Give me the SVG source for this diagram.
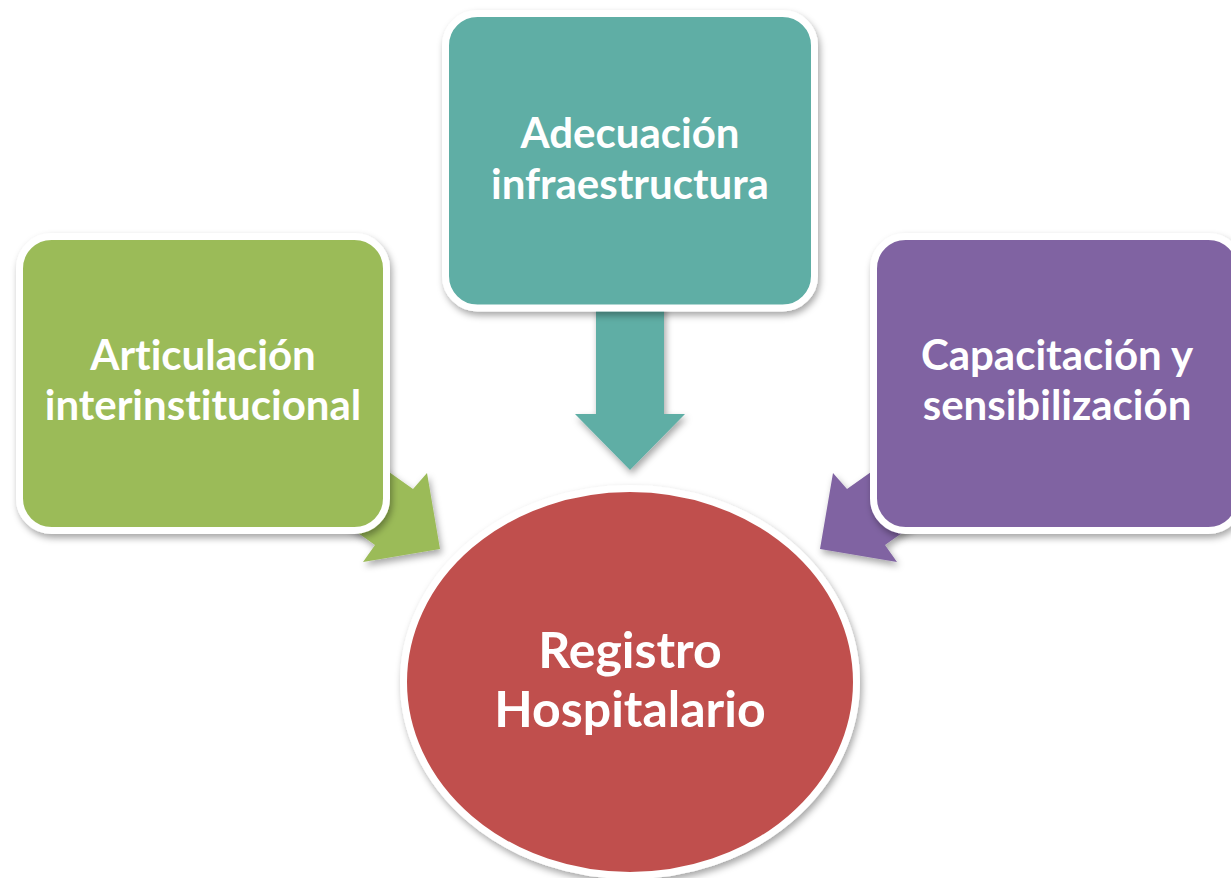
<svg xmlns="http://www.w3.org/2000/svg" width="1231" height="878" viewBox="0 0 1231 878">
<defs>
<filter id="sh" x="-20%" y="-20%" width="140%" height="140%">
<feDropShadow dx="2" dy="4" stdDeviation="3.5" flood-color="#000" flood-opacity="0.35"/>
</filter>
</defs>
<style>
.box{stroke:#fff;stroke-width:7;filter:url(#sh)}
.lbl{font-family:Lato,"Open Sans",sans-serif;font-weight:bold;fill:#fff;text-anchor:middle;font-variant-ligatures:none;font-feature-settings:"liga" 0,"dlig" 0}
.s{font-size:42px}
.b{font-size:50px}
</style>
<rect width="1231" height="878" fill="#fff"/>
<g id="connectors" filter="url(#sh)">
<polygon id="arrow-top" fill="#5EAEA5" points="596,300 664,300 664,414 685,414 630,470 575,414 596,414"/>
<polygon id="arrow-left" fill="#9BBB59" points="348,443 413,489 427,473 440,549 363,562 375,545 310,499"/>
<polygon id="arrow-right" fill="#8064A2" points="912,443 847,489 833,473 820,549 897,562 885,545 950,499"/>
</g>
<g id="node-left">
<rect class="box" x="19.5" y="236.5" width="367" height="294" rx="32" fill="#9BBB59"/>
<text class="lbl s" x="203" y="370">Articulación</text>
<text class="lbl s" x="203" y="420">interinstitucional</text>
</g>
<g id="node-top">
<rect class="box" x="445.5" y="13.5" width="369" height="294.5" rx="32" fill="#5EAEA5"/>
<text class="lbl s" x="630" y="148">Adecuación</text>
<text class="lbl s" x="630" y="199">infraestructura</text>
</g>
<g id="node-right">
<rect class="box" x="873.5" y="236.5" width="367" height="294" rx="32" fill="#8064A2"/>
<text class="lbl s" x="1057" y="370">Capacitación y</text>
<text class="lbl s" x="1057" y="420">sensibilización</text>
</g>
<g id="node-center">
<ellipse class="box" cx="630" cy="682" rx="226.5" ry="193.5" fill="#C0504D"/>
<text class="lbl b" x="630" y="668">Registro</text>
<text class="lbl b" x="630" y="727">Hospitalario</text>
</g>
</svg>
